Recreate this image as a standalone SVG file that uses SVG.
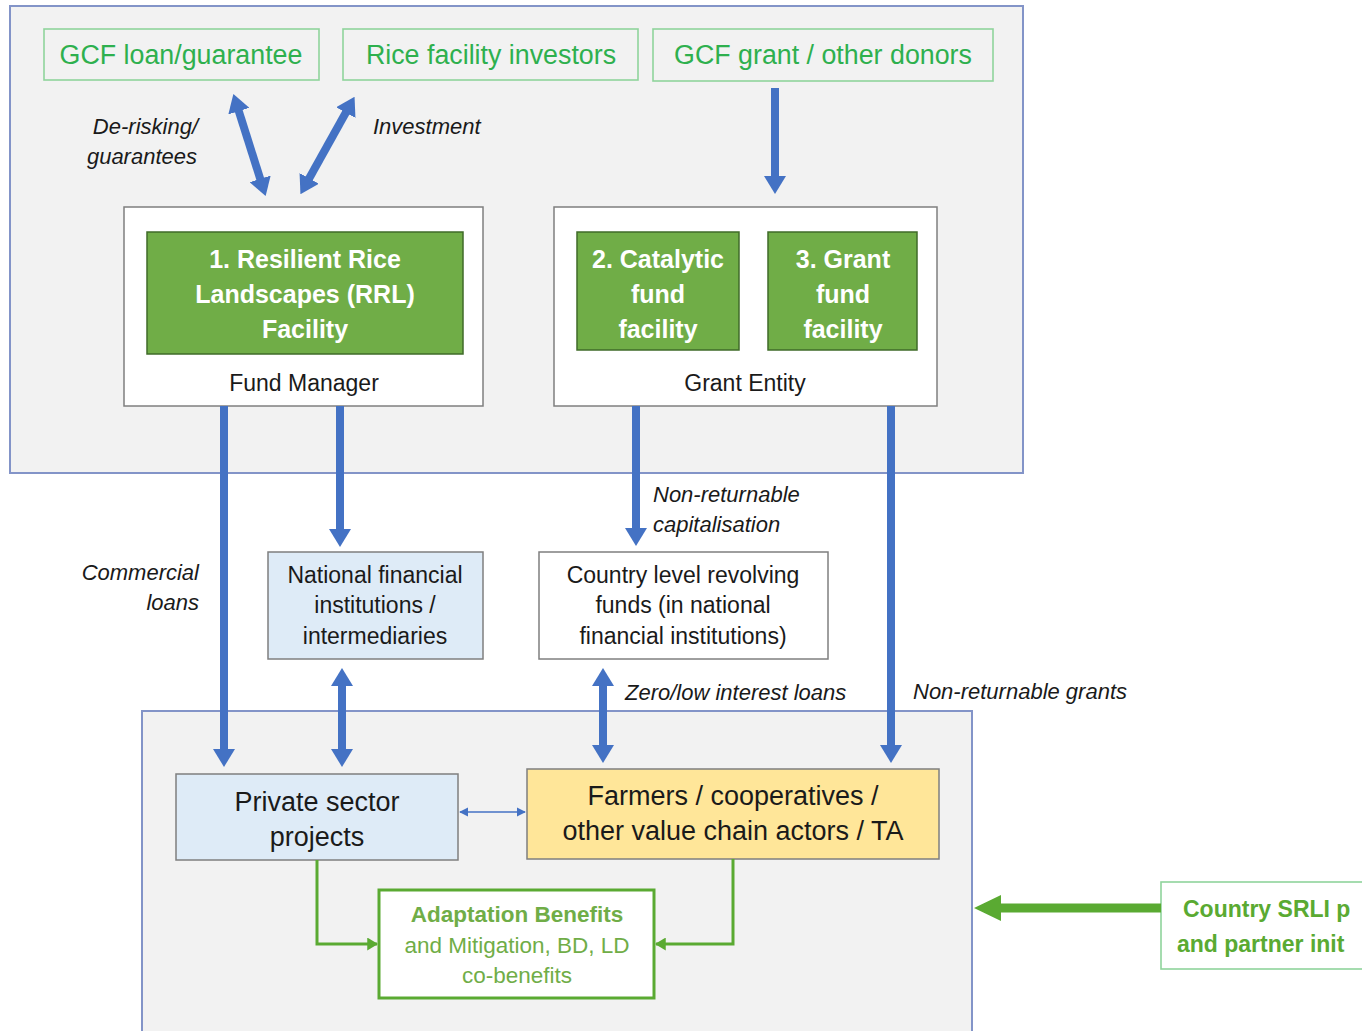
<svg xmlns="http://www.w3.org/2000/svg" width="1362" height="1031" viewBox="0 0 1362 1031">
<style>
.panel{fill:#f2f2f2;stroke:#8394c8;stroke-width:2}
.src{fill:#f2f2f2;stroke:#8fd49c;stroke-width:1.6}
.srct{font-family:"Liberation Sans",Arial,sans-serif;font-size:26.8px;fill:#2eb04e;text-anchor:middle}
.outer{fill:#fff;stroke:#7f7f7f;stroke-width:1.5}
.fac{fill:#70ad47;stroke:#3f6b28;stroke-width:1.5}
.fact{font-family:"Liberation Sans",Arial,sans-serif;font-size:25px;font-weight:bold;fill:#fff;text-anchor:middle}
.t{font-family:"Liberation Sans",Arial,sans-serif;font-size:23px;fill:#1a1a1a;text-anchor:middle}
.lbl{font-family:"Liberation Sans",Arial,sans-serif;font-size:22px;font-style:italic;fill:#1a1a1a}
.blue{fill:#deebf7;stroke:#7f7f7f;stroke-width:1.5}
.yel{fill:#ffe699;stroke:#7f7f7f;stroke-width:1.5}
.big{font-family:"Liberation Sans",Arial,sans-serif;font-size:27px;fill:#1a1a1a;text-anchor:middle}
.arr{stroke:#4472c4;stroke-width:8;fill:none}
.garr{stroke:#5aaa32;stroke-width:3;fill:none}
.gt{font-family:"Liberation Sans",Arial,sans-serif;font-size:22.5px;fill:#70ad47;text-anchor:middle}
.srli{font-family:"Liberation Sans",Arial,sans-serif;font-size:23px;font-weight:bold;fill:#5aaa32}
</style>
<defs>
<marker id="bh" viewBox="0 0 9 11" refX="0.5" refY="5.5" markerWidth="2.25" markerHeight="2.75" orient="auto-start-reverse">
<path d="M0,0 L9,5.5 L0,11 z" fill="#4472c4"/>
</marker>
<marker id="sh" viewBox="0 0 10 10" refX="9" refY="5" markerUnits="userSpaceOnUse" markerWidth="9" markerHeight="11" orient="auto-start-reverse">
<path d="M0,0 L10,5 L0,10 z" fill="#4472c4"/>
</marker>
<marker id="gh" viewBox="0 0 10 12" refX="9" refY="6" markerUnits="userSpaceOnUse" markerWidth="11" markerHeight="13" orient="auto">
<path d="M0,0 L10,6 L0,12 z" fill="#5aaa32"/>
</marker>
</defs>

<g id="panel-bottom"><rect class="panel" x="142" y="711" width="830" height="340"/></g>
<g id="panel-top"><rect class="panel" x="10" y="6" width="1013" height="467"/></g>

<g id="gcf-loan"><rect class="src" x="44" y="29" width="275" height="51"/><text class="srct" x="181" y="64">GCF loan/guarantee</text></g>
<g id="rice-investors"><rect class="src" x="343" y="29" width="295" height="51"/><text class="srct" x="491" y="64">Rice facility investors</text></g>
<g id="gcf-grant"><rect class="src" x="653" y="29" width="340" height="52"/><text class="srct" x="823" y="64">GCF grant / other donors</text></g>

<g id="fund-manager">
<rect class="outer" x="124" y="207" width="359" height="199"/>
<text class="t" x="304" y="391">Fund Manager</text>
</g>
<g id="rrl-facility">
<rect class="fac" x="147" y="232" width="316" height="122"/>
<text class="fact" x="305" y="268">1. Resilient Rice</text>
<text class="fact" x="305" y="303">Landscapes (RRL)</text>
<text class="fact" x="305" y="338">Facility</text>
</g>

<g id="grant-entity">
<rect class="outer" x="554" y="207" width="383" height="199"/>
<text class="t" x="745" y="391">Grant Entity</text>
</g>
<g id="catalytic-fund">
<rect class="fac" x="577" y="232" width="162" height="118"/>
<text class="fact" x="658" y="268">2. Catalytic</text>
<text class="fact" x="658" y="303">fund</text>
<text class="fact" x="658" y="338">facility</text>
</g>
<g id="grant-fund">
<rect class="fac" x="768" y="232" width="149" height="118"/>
<text class="fact" x="843" y="268">3. Grant</text>
<text class="fact" x="843" y="303">fund</text>
<text class="fact" x="843" y="338">facility</text>
</g>

<g id="national-fi">
<rect class="blue" x="268" y="552" width="215" height="107"/>
<text class="t" x="375" y="583">National financial</text>
<text class="t" x="375" y="613">institutions /</text>
<text class="t" x="375" y="644">intermediaries</text>
</g>
<g id="revolving-funds">
<rect class="outer" x="539" y="552" width="289" height="107"/>
<text class="t" x="683" y="583">Country level revolving</text>
<text class="t" x="683" y="613">funds (in national</text>
<text class="t" x="683" y="644">financial institutions)</text>
</g>

<g id="private-sector">
<rect class="blue" x="176" y="774" width="282" height="86"/>
<text class="big" x="317" y="811">Private sector</text>
<text class="big" x="317" y="846">projects</text>
</g>
<g id="farmers">
<rect class="yel" x="527" y="769" width="412" height="90"/>
<text class="big" x="733" y="805">Farmers / cooperatives /</text>
<text class="big" x="733" y="840">other value chain actors / TA</text>
</g>
<g id="benefits">
<rect x="379" y="890" width="275" height="108" fill="#fff" stroke="#5aaa32" stroke-width="3"/>
<text class="gt" x="517" y="922" font-weight="bold" font-size="22px">Adaptation Benefits</text>
<text class="gt" x="517" y="953">and Mitigation, BD, LD</text>
<text class="gt" x="517" y="983">co-benefits</text>
</g>
<g id="country-srli">
<rect x="1161" y="882" width="220" height="87" fill="#fff" stroke="#8fd49c" stroke-width="1.6"/>
<text class="srli" x="1183" y="917">Country SRLI p</text>
<text class="srli" x="1177" y="952">and partner init</text>
</g>

<g id="connectors">
<line class="arr" x1="238.5" y1="110.2" x2="260.5" y2="179.8" marker-start="url(#bh)" marker-end="url(#bh)"/>
<line class="arr" x1="346.3" y1="111.7" x2="308.7" y2="179.3" marker-start="url(#bh)" marker-end="url(#bh)"/>
<line class="arr" x1="775" y1="88" x2="775" y2="177" marker-end="url(#bh)"/>
<line class="arr" x1="224" y1="406" x2="224" y2="750" marker-end="url(#bh)"/>
<line class="arr" x1="340" y1="406" x2="340" y2="530" marker-end="url(#bh)"/>
<line class="arr" x1="636" y1="406" x2="636" y2="529" marker-end="url(#bh)"/>
<line class="arr" x1="891" y1="406" x2="891" y2="746" marker-end="url(#bh)"/>
<line class="arr" x1="342" y1="685" x2="342" y2="750" marker-start="url(#bh)" marker-end="url(#bh)"/>
<line class="arr" x1="603" y1="685" x2="603" y2="746" marker-start="url(#bh)" marker-end="url(#bh)"/>
<line x1="460" y1="812" x2="525" y2="812" stroke="#4472c4" stroke-width="1.5" marker-start="url(#sh)" marker-end="url(#sh)"/>
<polyline class="garr" points="317,860 317,944 377,944" marker-end="url(#gh)"/>
<polyline class="garr" points="733,859 733,944 656,944" marker-end="url(#gh)"/>
<polygon points="1161,903.5 1001,903.5 1001,895 974,908 1001,921 1001,912.5 1161,912.5" fill="#5aaa32"/>
</g>

<g id="labels">
<text class="lbl" x="198" y="134" text-anchor="end">De-risking/</text>
<text class="lbl" x="197" y="164" text-anchor="end">guarantees</text>
<text class="lbl" x="373" y="134">Investment</text>
<text class="lbl" x="199" y="580" text-anchor="end">Commercial</text>
<text class="lbl" x="199" y="610" text-anchor="end">loans</text>
<text class="lbl" x="653" y="502">Non-returnable</text>
<text class="lbl" x="653" y="532">capitalisation</text>
<text class="lbl" x="625" y="700">Zero/low interest loans</text>
<text class="lbl" x="913" y="699">Non-returnable grants</text>
</g>
</svg>
